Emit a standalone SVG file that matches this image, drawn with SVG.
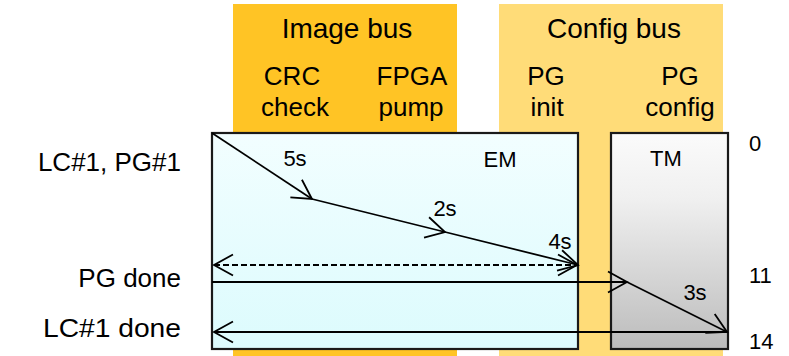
<svg xmlns="http://www.w3.org/2000/svg" width="789" height="356" viewBox="0 0 789 356">
<defs>
<linearGradient id="emFill" x1="0" y1="0" x2="0" y2="1">
<stop offset="0" stop-color="#f2feff"/>
<stop offset="1" stop-color="#dcfbfd"/>
</linearGradient>
<linearGradient id="tmFill" x1="0" y1="0" x2="0" y2="1">
<stop offset="0" stop-color="#fbfbfb"/>
<stop offset="0.3" stop-color="#f0f0f0"/>
<stop offset="1" stop-color="#bcbcbc"/>
</linearGradient>
<marker id="open" markerUnits="userSpaceOnUse" markerWidth="24" markerHeight="24" viewBox="-22 -12 24 24" refX="0" refY="0" orient="auto-start-reverse">
<path d="M-19,-10.5 L0,0 L-19,10.5" fill="none" stroke="#000" stroke-width="1.8"/>
</marker>
</defs>
<style>
text{font-family:"Liberation Sans",Arial,sans-serif;fill:#000}
.hd{font-size:28px}
.sub{font-size:26px}
.big{font-size:26px}
.med{font-size:22px}
.c{text-anchor:middle}
.r{text-anchor:end}
.ln{stroke:#000;stroke-width:1.8;fill:none}
.box{stroke:#1a1a1a;stroke-width:2.2}
</style>
<rect width="789" height="356" fill="#fff"/>
<g id="image-bus">
<rect x="233" y="4" width="224" height="352" fill="#ffc425"/>
<text class="hd c" x="347" y="38">Image bus</text>
<text class="sub c" x="292" y="85">CRC</text>
<text class="sub c" x="295" y="116">check</text>
<text class="sub c" x="412" y="85">FPGA</text>
<text class="sub c" x="411" y="116">pump</text>
</g>
<g id="config-bus">
<rect x="499" y="4" width="224" height="352" fill="#ffdc78"/>
<text class="hd c" x="614" y="38">Config bus</text>
<text class="sub c" x="546" y="85">PG</text>
<text class="sub c" x="547" y="116">init</text>
<text class="sub c" x="680" y="85">PG</text>
<text class="sub c" x="680" y="116">config</text>
</g>
<g id="em">
<rect class="box" x="212" y="133" width="366" height="216" fill="url(#emFill)"/>
<text class="med c" x="500" y="167">EM</text>
</g>
<g id="tm">
<rect class="box" x="611" y="133" width="117" height="216" fill="url(#tmFill)"/>
<text class="med c" x="666" y="166">TM</text>
</g>
<g id="labels">
<text class="big r" x="181" y="171">LC#1, PG#1</text>
<text class="big r" x="181" y="287">PG done</text>
<text class="big r" x="181" y="337" textLength="138" lengthAdjust="spacingAndGlyphs">LC#1 done</text>
<text class="med" x="749" y="151">0</text>
<text class="med" x="749" y="283">11</text>
<text class="med" x="749" y="349">14</text>
</g>
<g id="connectors">
<line class="ln" x1="212" y1="133" x2="312" y2="199" marker-end="url(#open)"/>
<line class="ln" x1="312" y1="199" x2="445" y2="232" marker-end="url(#open)"/>
<line class="ln" x1="445" y1="232" x2="578" y2="265" marker-end="url(#open)"/>
<line class="ln" x1="214" y1="265" x2="577" y2="265" stroke-dasharray="6,3" marker-start="url(#open)" marker-end="url(#open)"/>
<line class="ln" x1="212" y1="282" x2="627" y2="282" marker-end="url(#open)"/>
<line class="ln" x1="627" y1="282" x2="727" y2="332" marker-end="url(#open)"/>
<line class="ln" x1="727" y1="332" x2="214" y2="332" marker-end="url(#open)"/>
<text class="med c" x="295" y="166">5s</text>
<text class="med c" x="445" y="216">2s</text>
<text class="med c" x="560" y="249">4s</text>
<text class="med c" x="695" y="300">3s</text>
</g>
</svg>
